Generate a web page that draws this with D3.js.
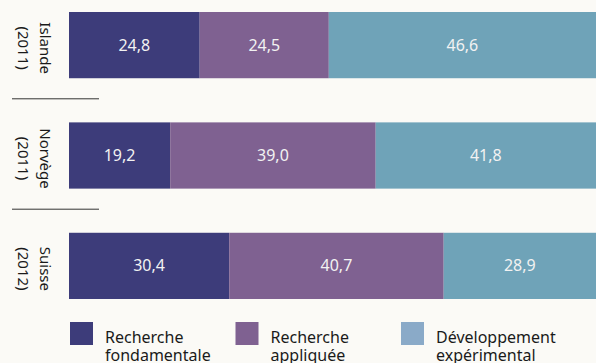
<!DOCTYPE html>
<html>
<head>
<meta charset="utf-8">
<script src="https://cdn.jsdelivr.net/npm/d3@7"></script>
<style>
  body { margin: 0; background: #fbfaf6; }
  svg { display: block; font-family: "Noto Sans", "Open Sans", sans-serif; }
</style>
</head>
<body>
<svg id="canvas" width="596" height="363"></svg>
<script>
// Data
let countries = ['Islande', 'Norvège', 'Suisse']
let years = ['(2011)', '(2011)', '(2012)']
let series = ['Recherche fondamentale', 'Recherche appliquée', 'Développement expérimental']
let fondamentale = [24.8, 19.2, 30.4]
let appliquee = [24.5, 39.0, 40.7]
let experimental = [46.6, 41.8, 28.9]

let barColors = ['#3d3c7a', '#7f6191', '#6fa3b8']
let legendColors = ['#3d3c7a', '#7f6191', '#8aaac8']

let canvas = d3.select('#canvas')

let x = d3.scaleLinear().domain([0, 100]).range([69, 596])
let y = d3.scaleBand().domain(countries).range([12, 299]).paddingInner(0.4).paddingOuter(0)

let fmt = v => d3.format('.1f')(v).replace('.', ',')

let drawBars = () => {
    countries.forEach((c, i) => {
        let vals = [fondamentale[i], appliquee[i], experimental[i]]
        let start = 0
        let segs = vals.map((v, j) => {
            // last segment fills up to the total (as in the original figure)
            let end = j === vals.length - 1 ? 100 : start + v
            let s = { x0: start, x1: end, v: v, j: j }
            start = end
            return s
        })
        let g = canvas.append('g')
        g.selectAll('rect')
            .data(segs)
            .enter()
            .append('rect')
            .attr('x', d => x(d.x0))
            .attr('y', y(c))
            .attr('width', d => x(d.x1) - x(d.x0))
            .attr('height', y.bandwidth())
            .attr('fill', d => barColors[d.j])
        g.selectAll('text')
            .data(segs)
            .enter()
            .append('text')
            .attr('x', d => (x(d.x0) + x(d.x1)) / 2)
            .attr('y', y(c) + y.bandwidth() / 2)
            .attr('dy', '0.35em')
            .attr('text-anchor', 'middle')
            .attr('fill', '#f2f2f2')
            .style('font-size', '16px')
            .text(d => fmt(d.v))

        // rotated country label (two lines, reading top to bottom)
        let cy = y(c) + y.bandwidth() / 2 + 3
        let lab = canvas.append('text')
            .attr('transform', `translate(40,${cy}) rotate(90)`)
            .attr('text-anchor', 'middle')
            .attr('fill', '#1a1a1a')
            .style('font-size', '15px')
        lab.append('tspan').attr('x', 0).attr('y', 0).text(c)
        lab.append('tspan').attr('x', 0).attr('y', 22).text(years[i])

        // separator line below each group except the last
        if (i < countries.length - 1) {
            let gap = y.step() - y.bandwidth()
            let ly = y(c) + y.bandwidth() + gap / 2 - 1.5
            canvas.append('line')
                .attr('x1', 12).attr('x2', 99)
                .attr('y1', ly).attr('y2', ly)
                .attr('stroke', '#333')
                .attr('stroke-width', 1)
        }
    })
}

let drawLegend = () => {
    let lx = d3.scalePoint().domain(series).range([70, 401])
    let items = canvas.selectAll('g.legend')
        .data(series)
        .enter()
        .append('g')
        .attr('class', 'legend')
        .attr('transform', d => `translate(${lx(d)},322)`)
    items.append('rect')
        .attr('width', 23).attr('height', 23)
        .attr('fill', (d, i) => legendColors[i])
    let t = items.append('text')
        .attr('fill', '#1a1a1a')
        .style('font-size', '16px')
    t.append('tspan').attr('x', 35).attr('y', 21).text(d => d.split(' ')[0])
    t.append('tspan').attr('x', 35).attr('y', 39).text(d => d.split(' ')[1])
}

drawBars()
drawLegend()
</script>
</body>
</html>
